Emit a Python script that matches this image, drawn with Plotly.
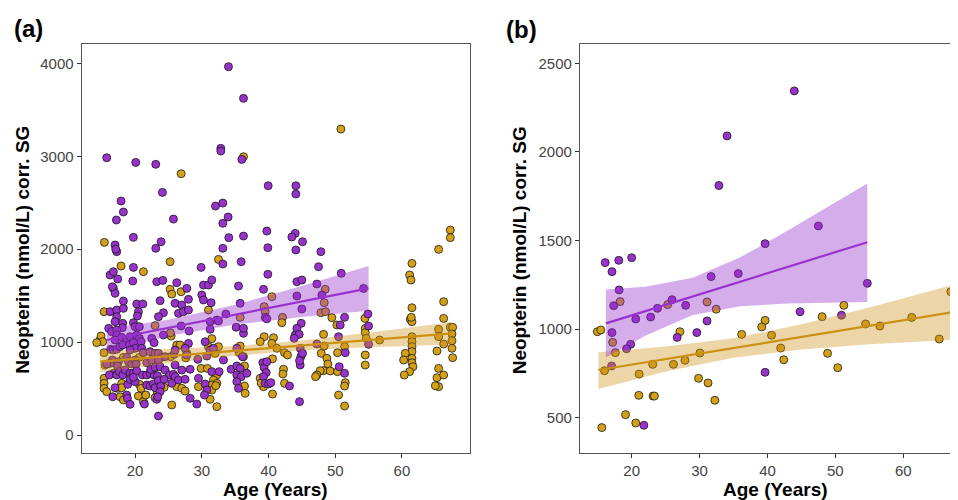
import plotly.graph_objects as go

# ---------------- data: panel (a) ----------------
a_purple_age = [
    34.0, 36.25, 15.75, 20.1, 23.1, 32.85, 32.85, 36.0, 24.1, 39.95,
    44.1, 44.1, 17.9, 18.25, 17.2, 25.75, 32.05, 33.15, 33.95, 33.15,
    34.05, 19.75, 23.9, 23.1, 33.15, 36.25, 39.75, 39.9, 44.0, 44.1,
    43.5, 45.1, 47.85, 17.0, 17.25, 17.1,
    16.25, 16.75, 19.75, 17.4, 19.65, 23.25, 24.15, 16.75, 17.0, 16.6,
    18.25, 23.75, 20.25, 21.15, 16.25, 17.25, 18.25, 20.5, 20.35, 24.25,
    23.5, 17.25, 17.0, 18.15, 18.1, 19.75, 20.0, 20.65, 16.05, 16.5,
    17.25, 17.25, 17.0, 18.0, 18.75, 19.25, 20.25, 20.65, 20.9, 22.5,
    22.85, 24.25, 16.35, 16.75, 17.25, 17.75, 18.15, 19.15, 19.75, 20.0,
    19.25, 21.0, 21.25, 22.25, 23.0, 23.5, 24.0, 24.5, 25.85, 16.6,
    16.25, 15.75, 17.5, 17.35, 18.75, 19.0, 19.5, 20.0, 20.15, 21.75,
    22.5, 23.5, 16.75, 16.15, 17.25, 17.65, 18.15, 18.5, 19.25, 19.75,
    20.25, 21.1, 21.75, 22.25, 22.85, 23.35, 22.35, 23.0, 23.75, 24.5,
    25.15, 25.75, 17.0, 18.9, 19.25, 20.0, 19.75, 21.75, 22.25, 22.75,
    23.0, 23.5, 23.85, 23.75, 24.35, 25.5, 16.65, 18.75, 18.85, 19.25,
    21.4, 23.25, 23.4, 23.5,
    29.9, 33.15, 35.9, 26.25, 27.75, 30.25, 31.0, 31.5, 35.5, 26.0,
    27.0, 28.0, 30.0, 30.25, 31.4, 35.75, 26.5, 27.25, 28.0, 33.6,
    31.25, 32.25, 32.5, 26.9, 28.1, 31.25, 35.15, 36.25, 36.25, 28.0,
    30.5, 26.0, 27.5, 27.75, 29.4, 30.75, 31.25, 31.75, 33.25, 35.25,
    36.1, 26.0, 27.0, 28.25, 31.5, 32.6, 34.4, 35.25, 35.75, 35.25,
    35.9, 36.75, 26.0, 26.5, 27.5, 29.5, 30.5, 30.75, 30.4, 35.25,
    35.5, 28.25, 29.25,
    39.9, 50.9, 47.5, 44.25, 45.0, 39.25, 47.25, 48.0, 54.25, 44.25,
    45.0, 39.5, 44.9, 44.25, 44.0, 44.6, 43.85, 51.4, 50.75, 54.9,
    55.0, 44.75, 44.85, 44.75, 45.1, 44.65, 47.25, 50.5, 51.5, 50.6,
    51.4, 55.0, 39.15, 39.35, 39.65, 39.25, 39.5, 40.0, 40.35, 39.75,
    43.15, 44.65, 39.75,
]
a_purple_val = [
    3964, 3623, 2984, 2934, 2913, 3085, 3056, 2966, 2611, 2683,
    2683, 2593, 2518, 2400, 2314, 2324, 2464, 2496, 2346, 2278,
    2124, 2127, 2080, 2009, 2009, 2141, 2195, 2016, 2170, 1991,
    2131, 2080, 1973, 2045, 1973, 2000,
    1722, 1758, 1804, 1679, 1657, 1650, 1664, 1578, 1525, 1596,
    1442, 1446, 1410, 1410, 1327, 1345, 1363, 1327, 1281, 1316,
    1273, 1273, 1220, 1202, 1155, 1209, 1166, 1166, 1148, 1112,
    1130, 1076, 1022, 1051, 1022, 1058, 1076, 1040, 1004, 1040,
    994, 1076, 922, 915, 922, 951, 969, 969, 994, 933,
    915, 933, 886, 897, 879, 879, 836, 843, 868, 807,
    771, 764, 789, 743, 836, 789, 764, 807, 764, 778,
    807, 807, 664, 646, 646, 682, 646, 700, 664, 664,
    689, 646, 646, 664, 646, 638, 707, 728, 735, 699,
    646, 653, 509, 545, 599, 574, 621, 538, 527, 549,
    509, 585, 527, 466, 599, 556, 412, 430, 395, 330,
    333, 384, 412, 204,
    1804, 1840, 1865, 1639, 1578, 1614, 1614, 1668, 1603, 1417,
    1399, 1460, 1507, 1453, 1424, 1417, 1309, 1327, 1345, 1302,
    1220, 1238, 1227, 1173, 1119, 1137, 1159, 1094, 1148, 986,
    1004, 915, 933, 861, 814, 850, 915, 933, 807, 933,
    843, 753, 699, 707, 682, 682, 707, 743, 717, 646,
    628, 664, 628, 592, 599, 610, 549, 484, 430, 574,
    502, 395, 333,
    1729, 1740, 1811, 1650, 1668, 1568, 1625, 1507, 1578, 1496,
    1356, 1266, 1202, 1148, 1076, 1083, 1040, 1266, 1184, 1302,
    1173, 933, 843, 753, 879, 800, 979, 1058, 886, 735,
    664, 976, 778, 725, 671, 628, 556, 549, 563, 789,
    527, 359, 1250,
]

a_orange_age = [
    15.4, 26.9, 32.5, 36.25, 50.85, 65.5, 67.25, 67.25,
    17.9, 21.25, 25.25, 25.25, 25.5, 15.35, 23.0, 25.4, 25.3, 14.75,
    14.9, 15.15, 14.25, 15.35, 18.25, 20.65, 25.35, 15.5, 15.35, 15.35,
    15.35, 15.75, 17.35, 18.0, 18.0, 20.65, 20.9, 24.35, 26.0, 17.75,
    20.5, 21.25, 23.35, 25.5, 23.0, 18.25, 21.6,
    26.9, 31.0, 35.75, 26.25, 26.75, 31.5, 31.0, 35.75, 32.0, 32.5,
    35.6, 36.25, 36.4, 29.9, 30.85, 32.25, 31.75, 32.25, 26.25, 27.0,
    27.5, 29.5, 31.5, 31.5, 32.1, 36.4, 36.5, 31.25, 32.25, 38.75,
    27.6, 27.75,
    61.5, 61.15, 61.35, 40.5, 48.5, 48.35, 47.85, 48.55, 49.5, 39.35,
    39.5, 42.1, 42.0, 50.25, 54.45, 54.5, 54.5, 54.65, 56.65, 61.5,
    61.25, 61.5, 61.4, 66.25, 66.25, 65.5, 65.5, 65.25, 67.25, 67.6,
    67.5, 67.5, 67.5, 67.6, 66.25, 61.5, 61.5, 61.5, 61.5, 61.5,
    61.5, 61.65, 60.5, 60.25, 61.15, 60.35, 65.5, 65.25, 66.25, 65.5,
    65.0, 39.35, 40.75, 40.5, 41.25, 42.4, 42.85, 38.75, 48.25, 48.35,
    47.9, 48.75, 48.9, 48.25, 49.25, 47.75, 47.25, 47.05, 51.4, 50.35,
    50.35, 51.5, 51.4, 50.5, 51.4, 54.5, 54.5, 39.25, 40.6, 42.25,
    42.15, 42.4, 38.9, 40.6,
]
a_orange_val = [
    2073, 2812, 1890, 2995, 3293, 1998, 2206, 2124,
    1819, 1758, 1865, 1568, 1517, 1327, 1177, 1065, 1100, 1022,
    1065, 1004, 994, 886, 836, 836, 843, 753, 610, 556,
    502, 466, 502, 556, 509, 545, 502, 513, 574, 412,
    420, 359, 448, 323, 400, 377, 430,
    1542, 1345, 1266, 968, 968, 1037, 951, 958, 879, 951,
    886, 843, 743, 717, 717, 646, 592, 556, 520, 502,
    473, 520, 538, 484, 531, 527, 448, 384, 305, 610,
    830, 880,
    1847, 1722, 1668, 1489, 1568, 1424, 1316, 1327, 1263, 1381,
    1327, 1266, 1209, 1184, 1255, 1148, 1101, 1040, 1022, 1370,
    1245, 1220, 1266, 1435, 1255, 1137, 1058, 904, 1159, 1159,
    1087, 1015, 933, 832, 979, 1058, 1004, 951, 897, 825,
    778, 735, 879, 807, 682, 646, 717, 617, 646, 520,
    530, 1058, 1047, 986, 933, 886, 861, 1004, 1083, 958,
    879, 825, 764, 692, 689, 692, 646, 628, 951, 886,
    682, 563, 527, 430, 312, 861, 753, 520, 441, 707,
    656, 556, 560, 820,
]

# fitted trend lines and 95% bands (panel a)
a_purple_fit_age = [15.75, 25, 35, 45, 55]
a_purple_fit_val = [1022, 1153, 1295, 1436, 1578]
a_purple_fit_lo = [897, 1066, 1188, 1269, 1336]
a_purple_fit_hi = [1147, 1240, 1402, 1603, 1820]
a_orange_fit_age = [14.75, 25, 35, 45, 55, 67.5]
a_orange_fit_val = [789, 848, 906, 964, 1022, 1094]
a_orange_fit_lo = [676, 770, 854, 912, 944, 973]
a_orange_fit_hi = [902, 926, 958, 1016, 1100, 1215]

# ---------------- data: panel (b) ----------------
b_purple_age = [
    43.95, 34.05, 32.85, 47.5, 39.65, 16.1, 18.1, 20.0, 17.1, 31.7,
    35.7, 18.15, 54.7, 25.95, 17.35, 27.95, 23.8, 22.8, 20.6, 31.1,
    44.8, 50.9, 17.1, 26.7, 29.6, 19.85, 19.25, 17.05, 39.65, 21.8,
]
b_purple_val = [
    2344, 2090, 1810, 1582, 1482, 1375, 1388, 1403, 1324, 1296,
    1313, 1221, 1258, 1166, 1132, 1134, 1117, 1068, 1057, 1046,
    1098, 1078, 980, 953, 980, 914, 889, 792, 756, 457,
]
b_orange_age = [
    67.0, 18.3, 25.3, 31.1, 32.45, 51.25, 48.05, 61.25, 39.65, 54.45,
    56.55, 39.15, 40.6, 36.2, 27.1, 14.95, 15.45, 17.2, 65.3, 17.6,
    30.05, 41.95, 48.85, 42.4, 27.85, 23.1, 26.15, 50.35, 16.0, 21.1,
    29.85, 31.25, 21.05, 23.15, 23.35, 32.25, 19.1, 20.6, 15.6,
]
b_orange_val = [
    1211, 1155, 1138, 1153, 1112, 1134, 1070, 1066, 1049, 1029,
    1017, 1012, 965, 970, 985, 985, 995, 925, 944, 867,
    865, 893, 863, 827, 824, 801, 801, 782, 765, 746,
    722, 696, 626, 622, 622, 598, 517, 470, 444,
]

# fitted trend lines and 95% bands (panel b)
b_purple_fit_age = [16.2, 22, 29, 36, 43, 49, 54.7]
b_purple_fit_val = [1032, 1101, 1184, 1267, 1350, 1422, 1490]
b_purple_fit_lo = [840, 963, 1079, 1129, 1144, 1150, 1153]
b_purple_fit_hi = [1224, 1239, 1289, 1405, 1556, 1694, 1821]
b_orange_fit_age = [15.1, 25, 35, 45, 55, 67.0]
b_orange_fit_val = [769, 831, 893, 956, 1018, 1093]
b_orange_fit_lo = [662, 760, 838, 885, 914, 938]
b_orange_fit_hi = [869, 902, 948, 1027, 1122, 1245]

a_x_ticks = [20, 30, 40, 50, 60]
a_y_ticks = [0, 1000, 2000, 3000, 4000]
b_x_ticks = [20, 30, 40, 50, 60]
b_y_ticks = [500, 1000, 1500, 2000, 2500]

PURPLE = "#9932CC"
GOLD = "#D4A017"
GOLD_LINE = "#CC9112"
PURPLE_FILL = "rgba(153,50,204,0.40)"
GOLD_FILL = "rgba(204,148,24,0.38)"
FONT = "Liberation Sans, Arial, sans-serif"
# page body has an 8px margin: figure occupies page pixels 8..958 x 8..500
OFF = 8
W, H = 950, 492


def px(x):
    return (x - OFF) / W


def py(y):
    return 1 - (y - OFF) / H


fig = go.Figure()


def add_panel(xa, ya, o_age, o_val, p_age, p_val, fits):
    mk = dict(size=8, line=dict(color="#1a1a1a", width=0.8))
    fig.add_trace(go.Scatter(x=o_age, y=o_val, mode="markers", xaxis=xa, yaxis=ya,
                             marker=dict(color=GOLD, **mk), showlegend=False))
    fig.add_trace(go.Scatter(x=p_age, y=p_val, mode="markers", xaxis=xa, yaxis=ya,
                             marker=dict(color=PURPLE, **mk), showlegend=False))
    for ages, mid, lo, hi, fill, lc in fits:
        fig.add_trace(go.Scatter(x=list(ages) + list(ages)[::-1],
                                 y=list(hi) + list(lo)[::-1],
                                 fill="toself", fillcolor=fill, line=dict(width=0),
                                 mode="lines", xaxis=xa, yaxis=ya, showlegend=False,
                                 hoverinfo="skip"))
        fig.add_trace(go.Scatter(x=ages, y=mid, mode="lines", line=dict(color=lc, width=2.2),
                                 xaxis=xa, yaxis=ya, showlegend=False))


add_panel("x", "y", a_orange_age, a_orange_val, a_purple_age, a_purple_val, [
    (a_orange_fit_age, a_orange_fit_val, a_orange_fit_lo, a_orange_fit_hi, GOLD_FILL, GOLD_LINE),
    (a_purple_fit_age, a_purple_fit_val, a_purple_fit_lo, a_purple_fit_hi, PURPLE_FILL, PURPLE),
])
add_panel("x2", "y2", b_orange_age, b_orange_val, b_purple_age, b_purple_val, [
    (b_orange_fit_age, b_orange_fit_val, b_orange_fit_lo, b_orange_fit_hi, GOLD_FILL, GOLD_LINE),
    (b_purple_fit_age, b_purple_fit_val, b_purple_fit_lo, b_purple_fit_hi, PURPLE_FILL, PURPLE),
])

ax_common = dict(showgrid=False, zeroline=False, ticks="outside", ticklen=4,
                 tickcolor="#333", tickwidth=1.1, showline=True, linecolor="#555",
                 linewidth=1.2, tickfont=dict(family=FONT, size=15, color="#444"),
                 automargin=False)

y_dom = [py(453.3), py(44.3)]
fig.update_layout(
    width=W, height=H, margin=dict(l=0, r=0, t=0, b=0),
    paper_bgcolor="white", plot_bgcolor="white", showlegend=False,
    xaxis=dict(domain=[px(81.7), px(470)], range=[12.0, 70.2], tickvals=a_x_ticks,
               mirror=True, anchor="y", **ax_common),
    yaxis=dict(domain=y_dom, range=[-197, 4205], tickvals=a_y_ticks,
               mirror=True, anchor="x", **ax_common),
    xaxis2=dict(domain=[px(580), 1.0], range=[12.39, 68.06], tickvals=b_x_ticks,
                mirror=True, anchor="y2", **ax_common),
    yaxis2=dict(domain=y_dom, range=[299, 2607], tickvals=b_y_ticks,
                mirror=False, anchor="x2", **ax_common),
)

title_font = dict(family=FONT, size=19, color="black")
ann = [
    dict(text="<b>Neopterin (nmol/L) corr. SG</b>", x=px(21.7), y=py(250), textangle=-90,
         font=title_font),
    dict(text="<b>Neopterin (nmol/L) corr. SG</b>", x=px(519.3), y=py(250), textangle=-90,
         font=title_font),
    dict(text="<b>Age (Years)</b>", x=px(275.9), y=py(489), font=title_font),
    dict(text="<b>Age (Years)</b>", x=px(775), y=py(489), font=title_font),
    dict(text="<b>(a)</b>", x=px(28), y=py(28), font=dict(family=FONT, size=24, color="black")),
    dict(text="<b>(b)</b>", x=px(521), y=py(30), font=dict(family=FONT, size=24, color="black")),
]
for a in ann:
    a.update(xref="paper", yref="paper", showarrow=False, xanchor="center", yanchor="middle")
    fig.add_annotation(**a)

fig.write_html("out.html")
